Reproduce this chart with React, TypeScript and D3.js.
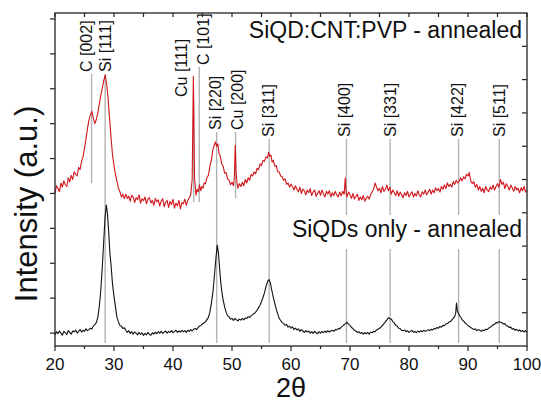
import React from "react";
import * as d3 from "d3";

// ---- data (2θ in degrees, intensity in arbitrary units) ----
const siqdCntPvp: [number, number][] = [
  [20.0,4.0],[20.25,4.22],[20.5,4.15],[20.75,4.05],[21.0,4.3],[21.25,4.18],[21.5,4.36],[21.75,4.25],[22.0,4.2],[22.25,4.45],
  [22.5,4.33],[22.75,4.52],[23.0,4.4],[23.25,4.62],[23.5,4.55],[23.75,4.5],[24.0,4.75],[24.25,4.68],[24.5,4.92],[24.75,5.05],
  [25.0,5.3],[25.25,5.55],[25.5,5.85],[25.75,6.1],[26.0,6.25],[26.25,6.35],[26.5,6.15],[26.75,6.0],[27.0,6.12],[27.25,6.3],
  [27.5,6.55],[27.75,6.8],[28.0,7.0],[28.25,7.22],[28.5,7.39],[28.75,7.15],[29.0,6.72],[29.25,6.15],[29.5,5.6],[29.75,5.1],
  [30.0,4.8],[30.25,4.55],[30.5,4.35],[30.75,4.15],[31.0,4.05],[31.25,3.9],[31.5,3.98],[31.75,3.85],
  [32.0,3.98],[32.25,3.86],[32.5,3.92],[32.75,3.78],[33.0,3.95],[33.25,3.9],[33.5,3.74],[33.75,3.88],[34.0,3.82],[34.25,3.96],
  [34.5,3.72],[34.75,3.85],[35.0,3.79],[35.25,3.9],[35.5,3.7],[35.75,3.84],[36.0,3.88],[36.25,3.73],[36.5,3.8],[36.75,3.66],
  [37.0,3.86],[37.25,3.76],[37.5,3.82],[37.75,3.64],[38.0,3.78],[38.25,3.85],[38.5,3.62],[38.75,3.74],[39.0,3.8],[39.25,3.6],
  [39.5,3.77],[39.75,3.68],[40.0,3.83],[40.25,3.58],[40.5,3.72],[40.75,3.65],[41.0,3.8],[41.25,3.56],[41.5,3.74],[41.75,3.7],
  [42.0,3.84],[42.25,3.66],[42.5,3.8],[42.75,3.88],[43.0,3.96],[43.25,4.4],[43.45,7.35],[43.65,4.45],
  [43.9,3.95],[44.1,4.12],[44.3,4.05],[44.5,4.25],[44.7,4.08],[44.9,4.2],[45.1,4.15],[45.3,4.3],[45.5,4.28],[45.75,4.45],
  [46.0,4.52],[46.25,4.78],[46.5,4.95],[46.75,5.25],[47.0,5.38],[47.2,5.48],[47.4,5.35],[47.6,5.42],[47.8,5.15],[48.0,5.08],
  [48.25,4.85],[48.5,4.78],[48.75,4.58],[49.0,4.6],[49.25,4.42],[49.5,4.38],[49.75,4.25],[50.0,4.32],[50.25,4.22],[50.4,4.45],
  [50.55,5.38],[50.7,4.6],[50.85,4.3],[51.0,4.15],[51.25,4.28],[51.5,4.2],[51.75,4.32],[52.0,4.22],[52.25,4.4],[52.5,4.3],
  [52.75,4.45],[53.0,4.38],[53.25,4.55],[53.5,4.5],[53.75,4.62],[54.0,4.56],[54.25,4.72],[54.5,4.68],[54.75,4.85],[55.0,4.8],
  [55.25,4.95],[55.5,4.92],[55.75,5.05],[56.0,5.02],[56.2,5.18],[56.4,5.06],[56.6,5.1],[56.8,4.9],[57.0,4.95],[57.25,4.78],
  [57.5,4.8],[57.75,4.62],[58.0,4.62],[58.25,4.5],[58.5,4.48],[58.75,4.38],[59.0,4.42],[59.25,4.26],[59.5,4.3],[59.75,4.18],
  [60.0,4.27],[60.25,4.2],[60.5,4.1],[60.75,4.22],[61.0,4.12],[61.25,4.05],[61.5,4.18],[61.75,4.0],[62.0,4.12],[62.25,4.08],
  [62.5,3.96],[62.75,4.1],[63.0,4.02],[63.25,4.14],[63.5,3.94],[63.75,4.04],[64.0,4.1],[64.25,3.92],[64.5,4.0],[64.75,4.08],
  [65.0,3.95],[65.25,4.1],[65.5,3.98],[65.75,3.9],[66.0,4.06],[66.25,3.98],[66.5,4.08],[66.75,3.9],[67.0,4.02],[67.25,3.94],
  [67.5,4.06],[67.75,3.96],[68.0,3.9],[68.25,4.04],[68.5,3.93],[68.75,4.06],[69.0,3.98],[69.2,4.45],[69.35,4.0],[69.5,3.9],
  [69.75,4.04],[70.0,3.96],[70.25,3.86],[70.5,4.0],[70.75,3.84],[71.0,3.92],[71.25,3.98],[71.5,3.8],[71.75,3.9],[72.0,3.82],
  [72.25,3.94],[72.5,3.78],[72.75,3.86],[73.0,3.92],[73.25,3.84],[73.5,3.96],[73.75,4.05],[74.0,4.12],[74.25,4.3],[74.5,4.18],
  [74.75,4.08],[75.0,4.15],[75.25,4.02],[75.5,4.2],[75.75,4.06],[76.0,4.12],[76.25,4.24],[76.5,4.08],[76.75,4.18],[77.0,3.98],
  [77.25,4.1],[77.5,4.02],[77.75,3.94],[78.0,4.08],[78.25,3.92],[78.5,4.04],[78.75,3.96],[79.0,3.88],[79.25,4.02],[79.5,3.94],
  [79.75,4.06],[80.0,3.9],[80.25,3.98],[80.5,4.05],[80.75,3.9],[81.0,4.0],[81.25,3.93],[81.5,4.08],[81.75,3.95],[82.0,3.9],
  [82.25,4.05],[82.5,3.98],[82.75,4.1],[83.0,3.96],[83.25,4.04],[83.5,4.12],[83.75,3.98],[84.0,4.1],[84.25,4.02],[84.5,4.16],
  [84.75,4.08],[85.0,4.14],[85.25,4.04],[85.5,4.2],[85.75,4.12],[86.0,4.24],[86.25,4.14],[86.5,4.3],[86.75,4.2],[87.0,4.26],
  [87.25,4.18],[87.5,4.34],[87.75,4.26],[88.0,4.38],[88.25,4.3],[88.5,4.35],[88.75,4.45],[89.0,4.36],[89.25,4.48],[89.5,4.42],
  [89.75,4.55],[90.0,4.5],[90.2,4.6],[90.5,4.35],[90.75,4.28],[91.0,4.34],[91.25,4.18],[91.5,4.26],[91.75,4.1],[92.0,4.2],
  [92.25,4.06],[92.5,4.15],[92.75,4.02],[93.0,4.2],[93.25,4.1],[93.5,4.05],[93.75,4.18],[94.0,4.12],[94.25,4.24],[94.5,4.1],
  [94.75,4.2],[95.0,4.28],[95.25,4.18],[95.5,4.4],[95.75,4.26],[96.0,4.32],[96.25,4.14],[96.5,4.28],[96.75,4.2],[97.0,4.1],
  [97.25,4.24],[97.5,4.16],[97.75,4.06],[98.0,4.2],[98.25,4.1],[98.5,4.15],[98.75,4.02],[99.0,4.16],[99.25,4.08],[99.5,4.2],
  [99.75,4.04],[100.0,4.1],
];

const siqdOnly: [number, number][] = [
  [20.0,-0.05],[20.25,0.04],[20.5,-0.02],[20.75,0.06],[21.0,0.0],[21.25,-0.06],[21.5,0.05],[21.75,0.01],[22.0,-0.04],[22.25,0.07],
  [22.5,0.02],[22.75,-0.03],[23.0,0.06],[23.25,0.03],[23.5,0.09],[23.75,0.0],[24.0,0.05],[24.25,0.1],[24.5,0.03],[24.75,0.08],
  [25.0,0.05],[25.25,0.12],[25.5,0.07],[25.75,0.1],[26.0,0.14],[26.25,0.12],[26.5,0.2],[26.75,0.24],[27.0,0.3],[27.25,0.45],
  [27.5,0.75],[27.75,1.2],[28.0,1.85],[28.25,2.6],[28.5,3.35],[28.7,3.67],[28.9,3.4],[29.1,2.9],[29.3,2.3],[29.5,1.95],
  [29.75,1.4],[30.0,1.05],[30.25,0.75],[30.5,0.45],[30.75,0.32],[31.0,0.22],[31.25,0.2],[31.5,0.13],[31.75,0.15],
  [32.0,0.08],[32.25,0.02],[32.5,0.07],[32.75,-0.01],[33.0,0.04],[33.25,-0.03],[33.5,0.03],[33.75,0.0],[34.0,-0.05],[34.25,0.02],
  [34.5,-0.04],[34.75,0.01],[35.0,-0.07],[35.25,-0.01],[35.5,-0.05],[35.75,0.02],[36.0,-0.04],[36.25,-0.06],[36.5,0.01],[36.75,-0.03],
  [37.0,0.03],[37.25,-0.02],[37.5,0.04],[37.75,0.0],[38.0,0.05],[38.25,-0.01],[38.5,0.03],[38.75,0.06],[39.0,0.0],[39.25,0.05],
  [39.5,0.02],[39.75,0.07],[40.0,0.01],[40.25,0.05],[40.5,0.08],[40.75,0.02],[41.0,0.06],[41.25,0.03],[41.5,0.08],[41.75,0.04],
  [42.0,0.07],[42.25,0.02],[42.5,0.08],[42.75,0.05],[43.0,0.1],[43.25,0.06],[43.5,0.11],[43.75,0.13],[44.0,0.1],[44.25,0.16],
  [44.5,0.2],[44.75,0.22],[45.0,0.26],[45.5,0.32],[46.0,0.45],[46.25,0.6],[46.5,0.85],[46.75,1.15],[47.0,1.6],[47.25,2.1],
  [47.5,2.52],[47.7,2.3],[47.9,1.85],[48.1,1.45],[48.3,1.15],[48.5,0.95],[48.75,0.75],[49.0,0.6],[49.25,0.5],[49.5,0.47],
  [49.75,0.4],[50.0,0.42],[50.25,0.36],[50.5,0.42],[50.75,0.38],[51.0,0.35],[51.25,0.4],[51.5,0.37],[51.75,0.42],[52.0,0.38],
  [52.25,0.43],[52.5,0.42],[52.75,0.47],[53.0,0.45],[53.25,0.5],[53.5,0.53],[53.75,0.56],[54.0,0.6],[54.25,0.66],[54.5,0.73],
  [54.75,0.8],[55.0,0.9],[55.25,1.02],[55.5,1.15],[55.8,1.36],[56.1,1.5],[56.3,1.53],[56.5,1.44],[56.75,1.22],[57.0,1.02],
  [57.25,0.85],[57.5,0.68],[57.75,0.55],[58.0,0.42],[58.25,0.36],[58.5,0.3],[58.75,0.27],[59.0,0.22],[59.25,0.25],[59.5,0.17],
  [59.75,0.2],[60.0,0.14],[60.25,0.18],[60.5,0.1],[60.75,0.14],[61.0,0.09],[61.25,0.12],[61.5,0.05],[61.75,0.1],[62.0,0.06],
  [62.25,0.02],[62.5,0.07],[62.75,0.03],[63.0,0.06],[63.25,0.0],[63.5,0.04],[63.75,-0.01],[64.0,0.05],[64.25,0.01],[64.5,-0.02],
  [64.75,0.04],[65.0,0.0],[65.25,0.05],[65.5,0.01],[65.75,0.06],[66.0,0.02],[66.25,0.07],[66.5,0.03],[66.75,0.06],[67.0,0.08],
  [67.25,0.05],[67.5,0.1],[67.75,0.09],[68.0,0.13],[68.25,0.12],[68.5,0.17],[68.75,0.2],[69.0,0.24],[69.25,0.27],[69.5,0.31],
  [69.75,0.25],[70.0,0.22],[70.25,0.16],[70.5,0.13],[70.75,0.08],[71.0,0.06],[71.25,0.02],[71.5,0.04],[71.75,-0.01],[72.0,0.02],
  [72.25,-0.03],[72.5,0.01],[72.75,-0.02],[73.0,0.02],[73.25,-0.03],[73.5,0.03],[73.75,0.01],[74.0,0.05],[74.25,0.04],[74.5,0.09],
  [74.75,0.11],[75.0,0.14],[75.25,0.17],[75.5,0.22],[75.75,0.27],[76.0,0.32],[76.25,0.38],[76.5,0.44],[76.75,0.41],[77.0,0.4],
  [77.25,0.33],[77.5,0.29],[77.75,0.22],[78.0,0.2],[78.25,0.14],[78.5,0.13],[78.75,0.08],[79.0,0.07],[79.25,0.09],[79.5,0.04],
  [79.75,0.07],[80.0,0.02],[80.25,0.05],[80.5,0.08],[80.75,0.02],[81.0,0.05],[81.25,0.01],[81.5,0.06],[81.75,0.03],[82.0,0.07],
  [82.25,0.04],[82.5,0.08],[82.75,0.05],[83.0,0.07],[83.25,0.1],[83.5,0.07],[83.75,0.11],[84.0,0.09],[84.25,0.13],[84.5,0.12],
  [84.75,0.16],[85.0,0.14],[85.25,0.19],[85.5,0.17],[85.75,0.22],[86.0,0.21],[86.25,0.26],[86.5,0.27],[86.75,0.31],[87.0,0.33],
  [87.25,0.38],[87.5,0.42],[87.75,0.48],[87.9,0.55],[88.05,0.86],[88.2,0.62],[88.4,0.56],[88.6,0.49],[88.8,0.45],[89.0,0.38],
  [89.25,0.35],[89.5,0.29],[89.75,0.26],[90.0,0.21],[90.25,0.19],[90.5,0.15],[90.75,0.13],[91.0,0.1],[91.25,0.12],[91.5,0.07],
  [91.75,0.1],[92.0,0.08],[92.25,0.05],[92.5,0.09],[92.75,0.07],[93.0,0.11],[93.25,0.1],[93.5,0.14],[93.75,0.17],[94.0,0.19],
  [94.25,0.24],[94.5,0.25],[94.75,0.3],[95.0,0.29],[95.25,0.33],[95.5,0.31],[95.75,0.3],[96.0,0.26],[96.25,0.27],[96.5,0.21],
  [96.75,0.2],[97.0,0.16],[97.25,0.17],[97.5,0.11],[97.75,0.13],[98.0,0.08],[98.25,0.11],[98.5,0.06],[98.75,0.09],[99.0,0.04],
  [99.25,0.08],[99.5,0.03],[99.75,0.07],[100.0,0.02],
];

const peakLabels = ["C [002]", "Si [111]", "Cu [111]", "C [101]", "Si [220]", "Cu [200]", "Si [311]", "Si [400]", "Si [331]", "Si [422]", "Si [511]"];
const peakTheta = [26.2, 28.5, 43.5, 44.45, 47.4, 50.6, 56.3, 69.4, 76.8, 88.4, 95.3];

const xTickValues = [20, 30, 40, 50, 60, 70, 80, 90, 100];
const xMinorValues = [25, 35, 45, 55, 65, 75, 85, 95];
const leftTickValues = [0, 1, 2, 3, 4, 5, 6, 7, 8, 9];
const rightTickValues = [1, 2, 3, 4, 5, 6, 7, 8, 9];

const titleTop = "SiQD:CNT:PVP - annealed";
const titleBottom = "SiQDs only - annealed";
const xLabel = "2θ";
const yLabel = "Intensity (a.u.)";

// ---- layout (pixels) ----
const W = 541, H = 403;
const L = 55, R = 527, T = 13, B = 346;
// per-label layout: text bottom y, line bottom y, label center offset from line
const labelLayout = [
  { textBottom: 72, lineBottom: 183, dx: -5.5 },
  { textBottom: 72, lineBottom: 343, dx: 0.7 },
  { textBottom: 97, lineBottom: 202, dx: -12 },
  { textBottom: 65, lineBottom: 202, dx: 4.2 },
  { textBottom: 130, lineBottom: 343, dx: -0.7 },
  { textBottom: 130, lineBottom: 198, dx: 1.8 },
  { textBottom: 137, lineBottom: 343, dx: -0.3 },
  { textBottom: 137, lineBottom: 343, dx: -1.7 },
  { textBottom: 137, lineBottom: 343, dx: 0 },
  { textBottom: 137, lineBottom: 343, dx: -0.7 },
  { textBottom: 137, lineBottom: 343, dx: 0.7 },
];

const FONT = "Arial, 'Liberation Sans', Helvetica, sans-serif";

export default function App() {
  const x = d3.scaleLinear().domain([20, 100]).range([L, R]);
  const y = d3.scaleLinear().domain([-0.37, 9.17]).range([B, T]);
  const yRight = d3.scaleLinear().domain([0, 10]).range([B, T]);
  const line = d3
    .line<[number, number]>()
    .x((d) => x(d[0]))
    .y((d) => y(d[1]));

  return (
    <svg width={W} height={H} style={{ position: "absolute", left: 0, top: 0, background: "#fff" }} fontFamily={FONT}>
      <rect x={0} y={0} width={W} height={H} fill="#fff" />
      {/* reference lines */}
      {peakTheta.map((t, i) => (
        <line key={"pl" + i} x1={x(t)} x2={x(t)} y1={labelLayout[i].textBottom + 2} y2={labelLayout[i].lineBottom} stroke="#b3b3b3" strokeWidth={1.4} />
      ))}
      {/* white box behind lower title */}
      <rect x={286} y={215} width={238} height={34} fill="#fff" />
      <text x={522} y={237} textAnchor="end" fontSize={23} fill="#111">{titleBottom}</text>
      <text x={522} y={38} textAnchor="end" fontSize={23} fill="#111">{titleTop}</text>
      {/* peak labels */}
      {peakLabels.map((lab, i) => (
        <text
          key={"lab" + i}
          transform={`translate(${x(peakTheta[i]) + labelLayout[i].dx},${labelLayout[i].textBottom}) rotate(-90)`}
          textAnchor="start"
          dominantBaseline="central"
          fontSize={16}
          fill="#111"
        >
          {lab}
        </text>
      ))}
      {/* curves */}
      <path d={line(siqdCntPvp) || ""} fill="none" stroke="#d0161b" strokeWidth={1.1} strokeLinejoin="round" />
      <path d={line(siqdOnly) || ""} fill="none" stroke="#111" strokeWidth={1.1} strokeLinejoin="round" />
      {/* frame */}
      <rect x={L} y={T} width={R - L} height={B - T} fill="none" stroke="#222" strokeWidth={1.3} />
      {/* bottom / top ticks */}
      {xTickValues.map((v) => (
        <g key={"xt" + v}>
          <line x1={x(v)} x2={x(v)} y1={B} y2={B + 5} stroke="#222" strokeWidth={1.2} />
          <line x1={x(v)} x2={x(v)} y1={T} y2={T + 4} stroke="#222" strokeWidth={1.2} />
          <text x={x(v)} y={370} textAnchor="middle" fontSize={17} fill="#111">{v}</text>
        </g>
      ))}
      {xMinorValues.map((v) => (
        <g key={"xm" + v}>
          <line x1={x(v)} x2={x(v)} y1={B} y2={B + 3} stroke="#222" strokeWidth={1.2} />
          <line x1={x(v)} x2={x(v)} y1={T} y2={T + 4} stroke="#222" strokeWidth={1.2} />
        </g>
      ))}
      {leftTickValues.map((v) => (
        <line key={"yl" + v} x1={L - 5} x2={L} y1={y(v)} y2={y(v)} stroke="#222" strokeWidth={1.2} />
      ))}
      {rightTickValues.map((v) => (
        <line key={"yr" + v} x1={R - 5} x2={R} y1={yRight(v)} y2={yRight(v)} stroke="#222" strokeWidth={1.2} />
      ))}
      {/* axis titles */}
      <text x={(L + R) / 2} y={397} textAnchor="middle" fontSize={27} fill="#111">{xLabel}</text>
      <text transform={`translate(37,204) rotate(-90)`} textAnchor="middle" fontSize={31} fill="#111">{yLabel}</text>
    </svg>
  );
}
